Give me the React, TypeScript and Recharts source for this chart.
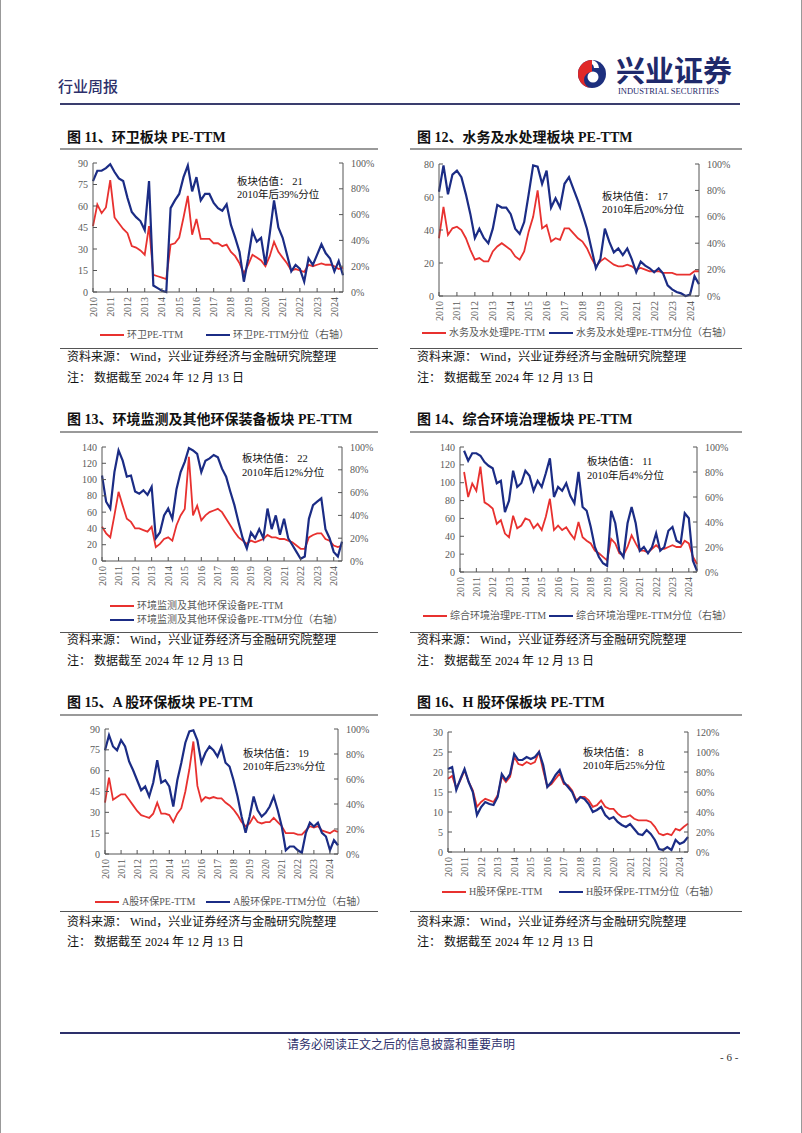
import React from "react";
import { LineChart, Line, XAxis, YAxis } from "recharts";

const RED = "#e8312f";
const BLUE = "#1b2c85";
const NAVY = "#2d306b";
const GREY_TEXT = "#595959";
const SERIF = "'Liberation Serif', 'Noto Sans CJK SC', serif";

// quarterly sample points, 2010 Q1 .. 2024 mid
const quarters = Array.from({ length: 59 }, (_, i) => 2010 + i / 4);
const yearTicks = [2010, 2011, 2012, 2013, 2014, 2015, 2016, 2017, 2018, 2019, 2020, 2021, 2022, 2023, 2024];

// 图11 环卫
const hwPe = [46, 61, 55, 59, 78, 52, 48, 44, 41, 32, 31, 29, 26, 46, 12, 11, 10, 9, 33, 34, 38, 52, 67, 40, 51, 37, 37, 37, 34, 34, 32, 33, 28, 25, 20, 13, 19, 26, 24, 22, 18, 25, 35, 28, 24, 20, 15, 16, 15, 14, 19, 18, 19, 20, 19, 19, 18, 16, 17];
const hwPct = [86, 94, 94, 96, 99, 93, 88, 86, 73, 62, 58, 55, 48, 86, 5, 3, 1, 0, 65, 71, 76, 89, 98, 78, 89, 71, 76, 76, 69, 65, 63, 68, 52, 42, 31, 8, 26, 47, 39, 42, 21, 45, 71, 50, 42, 29, 16, 21, 18, 8, 26, 21, 29, 37, 30, 26, 16, 24, 13];

// 图12 水务及水处理
const swPe = [35, 54, 37, 41, 42, 40, 35, 28, 22, 23, 21, 21, 27, 30, 32, 30, 28, 24, 22, 27, 39, 48, 64, 41, 43, 33, 35, 34, 41, 41, 38, 35, 33, 29, 23, 18, 21, 23, 21, 19, 18, 18, 19, 18, 16, 17, 16, 15, 15, 15, 14, 14, 14, 13, 13, 13, 13, 15, 15];
const swPct = [79, 99, 77, 92, 95, 90, 77, 62, 44, 51, 44, 40, 51, 69, 67, 67, 62, 51, 47, 56, 77, 99, 98, 85, 95, 67, 74, 67, 85, 90, 81, 72, 62, 51, 36, 21, 28, 51, 41, 33, 36, 31, 36, 28, 18, 26, 23, 21, 18, 21, 17, 8, 5, 3, 2, 0, 1, 15, 9];

// 图13 环境监测及其他环保设备
const jcPe = [42, 34, 29, 56, 85, 68, 52, 48, 40, 40, 38, 36, 42, 17, 21, 27, 29, 25, 44, 56, 64, 128, 56, 68, 50, 56, 60, 62, 64, 60, 52, 44, 36, 29, 25, 21, 25, 23, 25, 27, 32, 29, 29, 27, 27, 25, 23, 19, 15, 15, 29, 32, 34, 34, 27, 25, 19, 17, 19];
const jcPct = [75, 52, 46, 78, 97, 88, 74, 75, 61, 59, 62, 58, 65, 20, 25, 40, 46, 37, 63, 78, 87, 99, 97, 94, 78, 88, 90, 93, 91, 81, 74, 61, 49, 34, 20, 11, 25, 20, 28, 20, 46, 28, 40, 23, 37, 20, 14, 8, 2, 4, 37, 49, 52, 55, 28, 20, 8, 4, 17];

// 图14 综合环境治理
const zhPe = [null, 112, 84, 99, 91, 118, 78, 75, 71, 54, 58, 43, 39, 63, 49, 52, 60, 58, 49, 54, 47, 62, 82, 47, 52, 47, 50, 43, 37, 56, 39, 35, 32, 24, 21, 17, 13, 37, 32, 21, 19, 28, 41, 32, 24, 24, 22, 26, 30, 26, 26, 28, 30, 28, 28, 35, 32, 17, 9];
const zhPct = [null, 97, 89, 95, 95, 93, 88, 85, 83, 71, 73, 48, 57, 81, 68, 71, 81, 77, 65, 73, 68, 79, 91, 60, 68, 65, 71, 61, 55, 80, 52, 49, 36, 20, 12, 7, 5, 49, 39, 17, 12, 39, 52, 39, 17, 20, 15, 20, 31, 17, 20, 33, 36, 25, 23, 47, 43, 9, 1];

// 图15 A股环保
const aPe = [37, 55, 39, 41, 43, 43, 39, 35, 31, 28, 27, 26, 29, 37, 29, 29, 28, 23, 29, 33, 45, 61, 81, 49, 38, 41, 40, 41, 40, 40, 37, 35, 32, 28, 23, 20, 22, 27, 23, 22, 23, 23, 26, 23, 20, 15, 15, 15, 14, 14, 17, 20, 19, 20, 17, 16, 15, 17, 16];
const aPct = [83, 95, 86, 83, 91, 86, 74, 67, 59, 51, 54, 46, 57, 75, 57, 59, 54, 38, 59, 73, 89, 98, 99, 91, 73, 81, 86, 83, 78, 86, 73, 70, 59, 46, 30, 17, 30, 46, 35, 30, 33, 38, 46, 35, 22, 3, 6, 6, 3, 1, 17, 25, 22, 25, 17, 14, 3, 11, 7];

// 图16 H股环保
const hPe = [18.3, 19, 16, 18, 20.4, 17.5, 15.4, 11.3, 12.5, 13.3, 12.9, 12.5, 14.2, 18.8, 17.5, 18.8, 23.8, 22, 21.7, 22.5, 22, 22.5, 25, 20.4, 16.3, 17, 18.3, 19.6, 17, 16.7, 15.4, 12.9, 13.8, 13.8, 12.9, 11.3, 11.7, 12.9, 11.3, 10.8, 10.8, 9.6, 8.8, 8.8, 9.2, 8.3, 7.9, 7.9, 7.9, 7.5, 6.3, 4.6, 4.2, 4.6, 4.2, 5.8, 5.4, 6.3, 7.1];
const hPct = [83, 85, 62, 73, 83, 70, 60, 37, 45, 50, 48, 47, 55, 78, 72, 78, 98, 92, 92, 95, 93, 95, 100, 87, 65, 70, 77, 82, 70, 65, 60, 50, 55, 53, 48, 40, 42, 45, 37, 33, 35, 30, 27, 25, 28, 23, 18, 17, 22, 18, 12, 3, 2, 5, 2, 12, 8, 10, 15];

const rows = (pe: (number | null)[], pct: (number | null)[]) =>
  quarters.map((t, i) => ({ t, pe: pe[i], pct: pct[i] }));

type Rect = { l: number; t: number; r: number; b: number };
type ChartCfg = {
  title: string;
  name: string;
  pe: (number | null)[];
  pct: (number | null)[];
  leftMax: number;
  leftTicks: number[];
  rightMax: number;
  rightTicks: number[];
  value: string;
  pctText: string;
  plot: Rect;
  col: number; // column left edge
  colW: number;
  rowY: { title: number; titleLine: number; srcLine: number; src: number; note: number };
  legend: { x: number; y: number }[];
  note: { x: number; y1: number; y2: number };
};

const row1 = { title: 138, titleLine: 149, srcLine: 348, src: 357, note: 378 };
const row2 = { title: 420, titleLine: 432, srcLine: 632, src: 640, note: 661 };
const row3 = { title: 703, titleLine: 715, srcLine: 911, src: 922, note: 942 };

const charts: ChartCfg[] = [
  {
    title: "图 11、环卫板块 PE-TTM", name: "环卫", pe: hwPe, pct: hwPct,
    leftMax: 90, leftTicks: [0, 15, 30, 45, 60, 75, 90], rightMax: 100, rightTicks: [0, 20, 40, 60, 80, 100],
    value: "21", pctText: "39%",
    plot: { l: 93, t: 163, r: 343, b: 292 }, col: 60, colW: 318, rowY: row1,
    legend: [{ x: 100, y: 335 }, { x: 206, y: 335 }],
    note: { x: 237, y1: 182, y2: 195 },
  },
  {
    title: "图 12、水务及水处理板块 PE-TTM", name: "水务及水处理", pe: swPe, pct: swPct,
    leftMax: 80, leftTicks: [0, 20, 40, 60, 80], rightMax: 100, rightTicks: [0, 20, 40, 60, 80, 100],
    value: "17", pctText: "20%",
    plot: { l: 439, t: 164, r: 699, b: 296 }, col: 410, colW: 332, rowY: row1,
    legend: [{ x: 422, y: 333 }, { x: 549, y: 333 }],
    note: { x: 602, y1: 197, y2: 210 },
  },
  {
    title: "图 13、环境监测及其他环保装备板块 PE-TTM", name: "环境监测及其他环保设备", pe: jcPe, pct: jcPct,
    leftMax: 140, leftTicks: [0, 20, 40, 60, 80, 100, 120, 140], rightMax: 100, rightTicks: [0, 20, 40, 60, 80, 100],
    value: "22", pctText: "12%",
    plot: { l: 102, t: 447, r: 342, b: 561 }, col: 60, colW: 318, rowY: row2,
    legend: [{ x: 110, y: 606 }, { x: 110, y: 620 }],
    note: { x: 242, y1: 459, y2: 473 },
  },
  {
    title: "图 14、综合环境治理板块 PE-TTM", name: "综合环境治理", pe: zhPe, pct: zhPct,
    leftMax: 140, leftTicks: [0, 20, 40, 60, 80, 100, 120, 140], rightMax: 100, rightTicks: [0, 20, 40, 60, 80, 100],
    value: "11", pctText: "4%",
    plot: { l: 460, t: 447, r: 697, b: 572 }, col: 410, colW: 332, rowY: row2,
    legend: [{ x: 423, y: 616 }, { x: 549, y: 616 }],
    note: { x: 587, y1: 462, y2: 476 },
  },
  {
    title: "图 15、A 股环保板块 PE-TTM", name: "A股环保", pe: aPe, pct: aPct,
    leftMax: 90, leftTicks: [0, 15, 30, 45, 60, 75, 90], rightMax: 100, rightTicks: [0, 20, 40, 60, 80, 100],
    value: "19", pctText: "23%",
    plot: { l: 105, t: 729, r: 338, b: 854 }, col: 60, colW: 318, rowY: row3,
    legend: [{ x: 95, y: 902 }, { x: 206, y: 902 }],
    note: { x: 243, y1: 754, y2: 767 },
  },
  {
    title: "图 16、H 股环保板块 PE-TTM", name: "H股环保", pe: hPe, pct: hPct,
    leftMax: 30, leftTicks: [0, 5, 10, 15, 20, 25, 30], rightMax: 120, rightTicks: [0, 20, 40, 60, 80, 100, 120],
    value: "8", pctText: "25%",
    plot: { l: 448, t: 732, r: 688, b: 852 }, col: 410, colW: 332, rowY: row3,
    legend: [{ x: 442, y: 892 }, { x: 559, y: 892 }],
    note: { x: 583, y1: 753, y2: 766 },
  },
];

const LW = 36;
const RW = 46;
const MT = 8;
const XH = 32;

const YearTick = (props: any) => {
  const { x, y, payload } = props;
  return (
    <text
      transform={`translate(${x},${y}) rotate(-90)`}
      textAnchor="end"
      dominantBaseline="central"
      fontSize={10}
      fill={GREY_TEXT}
      fontFamily={SERIF}
    >
      {payload.value}
    </text>
  );
};

const Txt = ({ x, cy, size, children, style }: any) => (
  <div
    style={{
      position: "absolute",
      left: x,
      top: cy - size * 0.7,
      height: size * 1.4,
      lineHeight: `${size * 1.4}px`,
      fontSize: size,
      whiteSpace: "nowrap",
      ...style,
    }}
  >
    {children}
  </div>
);

const HLine = ({ x, y, w, h, color }: any) => (
  <div style={{ position: "absolute", left: x, top: y - h / 2, width: w, height: h, background: color }} />
);

function Panel({ c }: { c: ChartCfg }) {
  const { plot } = c;
  const width = LW + (plot.r - plot.l) + RW;
  const height = MT + (plot.b - plot.t) + XH;
  const axisTick = { fill: GREY_TEXT, fontSize: 10, fontFamily: SERIF };
  const labels = [`${c.name}PE-TTM`, `${c.name}PE-TTM分位（右轴）`];
  const colors = [RED, BLUE];
  return (
    <>
      <Txt x={c.col + 7} cy={c.rowY.title} size={14} style={{ fontWeight: "bold", color: "#111" }}>
        {c.title}
      </Txt>
      <HLine x={c.col} y={c.rowY.titleLine} w={c.colW} h={1.5} color="#9a9a9a" />
      <div style={{ position: "absolute", left: plot.l - LW, top: plot.t - MT }}>
        <LineChart width={width} height={height} data={rows(c.pe, c.pct)} margin={{ top: MT, right: 0, bottom: 0, left: 0 }}>
          <XAxis
            dataKey="t"
            type="number"
            domain={[2010, 2024.5]}
            ticks={yearTicks}
            interval={0}
            height={XH}
            stroke="#555"
            tickSize={-4}
            tickMargin={9}
            tick={(p: any) => <YearTick {...p} />}
          />
          <YAxis
            yAxisId="l"
            domain={[0, c.leftMax]}
            ticks={c.leftTicks}
            interval={0}
            width={LW}
            stroke="#555"
            tickSize={-4}
            tickMargin={9}
            tick={axisTick}
          />
          <YAxis
            yAxisId="r"
            orientation="right"
            domain={[0, c.rightMax]}
            ticks={c.rightTicks}
            interval={0}
            width={RW}
            stroke="#555"
            tickSize={-4}
            tickMargin={12}
            tick={axisTick}
            tickFormatter={(v: number) => `${v}%`}
          />
          <Line yAxisId="l" dataKey="pe" stroke={RED} strokeWidth={1.8} dot={false} isAnimationActive={false} />
          <Line yAxisId="r" dataKey="pct" stroke={BLUE} strokeWidth={2.2} dot={false} isAnimationActive={false} />
        </LineChart>
      </div>
      <Txt x={c.note.x} cy={c.note.y1} size={10.5} style={{ color: "#111", fontFamily: SERIF }}>
        板块估值： {c.value}
      </Txt>
      <Txt x={c.note.x} cy={c.note.y2} size={10.5} style={{ color: "#111", fontFamily: SERIF }}>
        2010年后{c.pctText}分位
      </Txt>
      {c.legend.map((lg, i) => (
        <React.Fragment key={i}>
          <HLine x={lg.x} y={lg.y} w={24} h={2.4} color={colors[i]} />
          <Txt x={lg.x + 27} cy={lg.y} size={10} style={{ color: GREY_TEXT, fontFamily: SERIF }}>
            {labels[i]}
          </Txt>
        </React.Fragment>
      ))}
      <HLine x={c.col} y={c.rowY.srcLine} w={c.colW} h={1} color="#555" />
      <Txt x={c.col + 7} cy={c.rowY.src} size={12} style={{ color: "#111", fontFamily: SERIF }}>
        资料来源： Wind，兴业证券经济与金融研究院整理
      </Txt>
      <Txt x={c.col + 7} cy={c.rowY.note} size={12} style={{ color: "#111", fontFamily: SERIF }}>
        注： 数据截至 2024 年 12 月 13 日
      </Txt>
    </>
  );
}

export default function App() {
  return (
    <div
      style={{
        position: "absolute",
        left: 0,
        top: 0,
        width: 802,
        height: 1133,
        background: "#fff",
        overflow: "hidden",
        fontFamily: SERIF,
      }}
    >
      <div style={{ position: "absolute", left: 0, top: 0, width: 800, height: 1133, borderLeft: "1px solid #999", borderRight: "1px solid #999" }} />
      {/* header */}
      <Txt x={58} cy={87} size={15} style={{ color: NAVY, fontWeight: 500 }}>
        行业周报
      </Txt>
      <svg width={30} height={30} viewBox="0 0 30 30" style={{ position: "absolute", left: 577, top: 59 }}>
        <circle cx={15} cy={15} r={14} fill="#1d2f7e" />
        <path d="M15 1 A14 14 0 0 0 15 29 A8 8 0 0 1 15 13 Z" fill="#e02828" />
        <circle cx={16} cy={18} r={5.5} fill="#fff" />
        <path d="M15 1 A9 9 0 0 1 22 9 L17 9 A5 5 0 0 0 15 5 Z" fill="#fff" />
      </svg>
      <Txt x={616} cy={72} size={29} style={{ color: "#1f2a6b", fontWeight: "bold" }}>
        兴业证券
      </Txt>
      <Txt x={618} cy={92} size={8.5} style={{ color: "#1f2a6b" }}>
        INDUSTRIAL SECURITIES
      </Txt>
      <HLine x={60} y={104} w={680} h={1.6} color="#3a3d6e" />

      {charts.map((c, i) => (
        <Panel key={i} c={c} />
      ))}

      {/* footer */}
      <HLine x={60} y={1033} w={680} h={2} color="#2d306b" />
      <div style={{ position: "absolute", left: 0, width: 802, top: 1037, textAlign: "center", fontSize: 12, lineHeight: "17px", color: NAVY }}>
        请务必阅读正文之后的信息披露和重要声明
      </div>
      <Txt x={720} cy={1058} size={11} style={{ color: "#333" }}>
        - 6 -
      </Txt>
    </div>
  );
}
